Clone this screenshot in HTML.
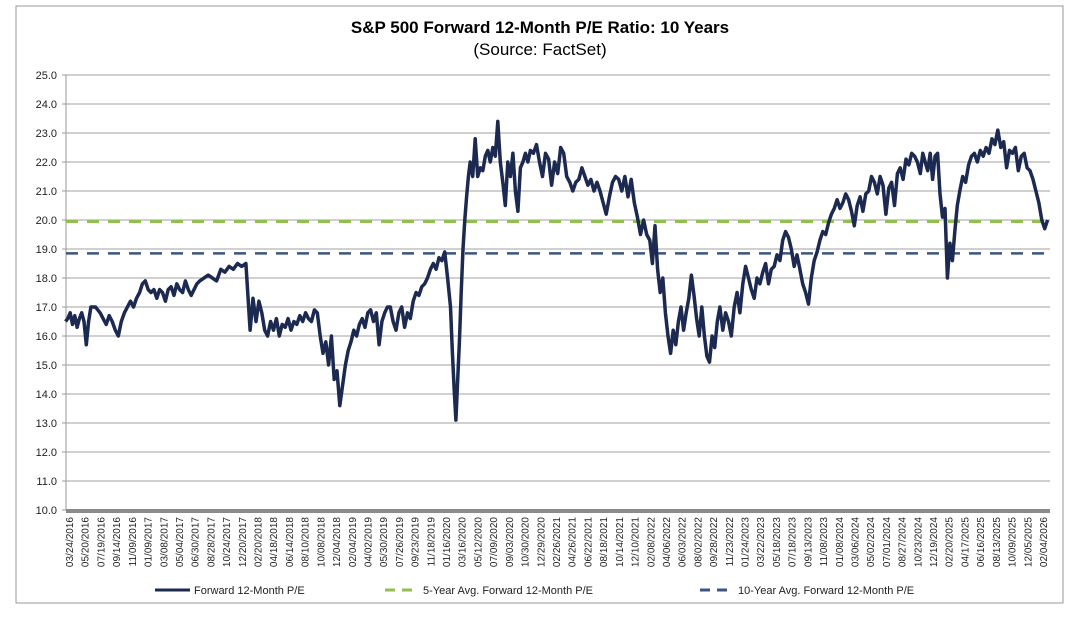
<!DOCTYPE html>
<html><head><meta charset="utf-8"><style>
body{margin:0;background:#fff;width:1090px;height:620px;overflow:hidden;font-family:"Liberation Sans",Arial,sans-serif}
</style></head><body>
<svg width="1090" height="620" xmlns="http://www.w3.org/2000/svg" id="chart">
<rect x="16" y="6" width="1047" height="597" fill="none" stroke="#999" stroke-width="1"/>
<text x="540" y="33" text-anchor="middle" font-size="17" font-weight="bold" fill="#000">S&amp;P 500 Forward 12-Month P/E Ratio: 10 Years</text>
<text x="540" y="55" text-anchor="middle" font-size="17" fill="#000">(Source: FactSet)</text>
<g id="grid"></g><g id="yticks"></g><g id="xticks"></g><g id="series"></g>
<g>
<line x1="155" y1="590" x2="190" y2="590" stroke="#1c2a52" stroke-width="3"/>
<text x="194" y="594" font-size="11" fill="#222">Forward 12-Month P/E</text>
<line x1="385" y1="590" x2="418" y2="590" stroke="#92c050" stroke-width="3" stroke-dasharray="10,7"/>
<text x="423" y="594" font-size="11" fill="#222">5-Year Avg. Forward 12-Month P/E</text>
<line x1="700" y1="590" x2="733" y2="590" stroke="#3c5580" stroke-width="3" stroke-dasharray="10,7"/>
<text x="738" y="594" font-size="11" fill="#222">10-Year Avg. Forward 12-Month P/E</text>
</g>
</svg>
<script>
const yTicks=[10,11,12,13,14,15,16,17,18,19,20,21,22,23,24,25];
const xLabels=["03/24/2016","05/20/2016","07/19/2016","09/14/2016","11/09/2016","01/09/2017","03/08/2017","05/04/2017","06/30/2017","08/28/2017","10/24/2017","12/20/2017","02/20/2018","04/18/2018","06/14/2018","08/10/2018","10/08/2018","12/04/2018","02/04/2019","04/02/2019","05/30/2019","07/26/2019","09/23/2019","11/18/2019","01/16/2020","03/16/2020","05/12/2020","07/09/2020","09/03/2020","10/30/2020","12/29/2020","02/26/2021","04/26/2021","06/22/2021","08/18/2021","10/14/2021","12/10/2021","02/08/2022","04/06/2022","06/03/2022","08/02/2022","09/28/2022","11/23/2022","01/24/2023","03/22/2023","05/18/2023","07/18/2023","09/13/2023","11/08/2023","01/08/2024","03/06/2024","05/02/2024","07/01/2024","08/27/2024","10/23/2024","12/19/2024","02/20/2025","04/17/2025","06/16/2025","08/13/2025","10/09/2025","12/05/2025","02/04/2026"];
const avg5=19.95;
const avg10=18.85;
const segStarts=[2016.19,2016.54,2016.94,2017.55,2018.06,2018.77,2019.48,2020.09,2020.29,2020.90,2021.605,2022.11,2022.82,2023.63,2024.24,2024.85,2025.25,2026.14];
const segValues=[
[16.5,16.6,16.8,16.4,16.7,16.3,16.6,16.8,16.5,15.7,16.5,17.0,17.0,17.0,16.9],
[16.8,16.6,16.4,16.7,16.5,16.2,16.0,16.5,16.8,17.0,17.2,17.0,17.3],
[17.5,17.8,17.9,17.6,17.5,17.6,17.3,17.6,17.5,17.2,17.6,17.7,17.4,17.8,17.6,17.5,17.9,17.6,17.4,17.6,17.8],
[17.9,18.0,18.1,18.0,17.9,18.3,18.2,18.4,18.3,18.5,18.4,18.5],
[16.2,17.3,16.5,17.2,16.8,16.2,16.0,16.5,16.2,16.6,16.0,16.4,16.3,16.6,16.2,16.5,16.4,16.7,16.5,16.8,16.6,16.5,16.9,16.8],
[16.0,15.4,15.8,15.0,16.0,14.5,14.8,13.6,14.3,15.0,15.5,15.8,16.2,16.0,16.4,16.6,16.3,16.8,16.9,16.5,16.8,15.7,16.5,16.8,17.0],
[17.0,16.5,16.2,16.8,17.0,16.3,16.8,16.6,17.2,17.5,17.4,17.7,17.8,18.0,18.3,18.5,18.3,18.7,18.6,18.9,18.0],
[17.0,15.5,14.2,13.1,14.5,15.8,17.5,19.0,20.0,20.8,21.5],
[22.0,21.5,22.8,21.5,21.8,21.7,22.2,22.4,22.0,22.5,22.2,23.4,22.0,21.3,20.5,22.0,21.5,22.3,21.0,20.3,21.8,22.0,22.3,22.0],
[22.4,22.3,22.6,22.0,21.5,22.3,22.1,21.2,22.0,21.6,22.5,22.3,21.5,21.3,21.0,21.3,21.4,21.8,21.5,21.2,21.4,21.0,21.3],
[21.0,20.6,20.2,20.8,21.3,21.5,21.4,21.0,21.5,20.8,21.4,20.6,20.1,19.5,20.0,19.5],
[19.3,18.5,19.8,18.3,17.5,18.0,16.8,16.0,15.4,16.2,15.7,16.5,17.0,16.2,16.8,17.3,18.1,17.4,16.6,16.0,17.0,16.0,15.3,15.1,16.0,15.6,16.5],
[17.0,16.2,16.8,16.5,16.0,17.0,17.5,16.8,17.8,18.4,18.0,17.6,17.3,18.0,17.8,18.2,18.5,17.8,18.3,18.4,18.8,18.6,19.3,19.6,19.4,19.0,18.4,18.8],
[18.3,17.8,17.5,17.1,18.0,18.6,18.9,19.3,19.6,19.5,19.9,20.2,20.4,20.7,20.4,20.6,20.9,20.7,20.3,19.8,20.5],
[20.8,20.3,20.9,21.0,21.5,21.3,20.9,21.5,21.2,20.2,21.1,21.3,20.5,21.6,21.8,21.4,22.1,21.9,22.3,22.2,22.0],
[21.6,22.3,22.0,21.7,22.3,21.4,22.2,22.3,20.9,20.1,20.4,18.0,19.2,18.6,19.6,20.5],
[21.0,21.5,21.3,21.9,22.2,22.3,22.0,22.4,22.2,22.5,22.3,22.8,22.6,23.1,22.5,22.7,21.8,22.4,22.3,22.5,21.7,22.2,22.3,21.8,21.7,21.4,21.0,20.6,20.0,19.7,20.0]
];
const NS="http://www.w3.org/2000/svg";
const L=66,R=1050,T=75,B=510,x0=2016.225,xl0=69,pxYear=98.7;
function yS(v){return B-(v-10)/15*(B-T);}
function xS(t){return xl0+(t-x0)*pxYear;}
function mk(tag,attrs,parent){const e=document.createElementNS(NS,tag);for(const k in attrs)e.setAttribute(k,attrs[k]);parent.appendChild(e);return e;}
const grid=document.getElementById('grid'),yt=document.getElementById('yticks'),xt=document.getElementById('xticks'),ser=document.getElementById('series');
mk('line',{x1:L,y1:T,x2:L,y2:B,stroke:'#999','stroke-width':1},grid);
yTicks.forEach(v=>{
  if(v>10){const g=mk('line',{x1:L,y1:yS(v),x2:R,y2:yS(v),stroke:'#a0a0a0','stroke-width':1},grid);
  
  }
  mk('line',{x1:L-4,y1:yS(v),x2:L,y2:yS(v),stroke:'#999'},grid);
  const t=mk('text',{x:L-9,y:yS(v)+4,'text-anchor':'end','font-size':11,fill:'#222'},yt);
  t.textContent=v.toFixed(1);
  
  
});
const ax=mk('line',{x1:L,y1:B+1,x2:R,y2:B+1,stroke:'#8a8a8a','stroke-width':4},grid);


const step=(1043-69)/(xLabels.length-1);
xLabels.forEach((s,i)=>{
  const x=69+i*step+4;
  const t=mk('text',{x:x,y:517,'text-anchor':'end','font-size':10,fill:'#222',transform:`rotate(-90 ${x} 517)`},xt);
  t.textContent=s;
  
  
});
const g5=mk('line',{x1:L,y1:yS(avg5),x2:R,y2:yS(avg5),stroke:'#92c050','stroke-width':3,'stroke-dasharray':'12,9'},ser);


const g10=mk('line',{x1:L,y1:yS(avg10),x2:R,y2:yS(avg10),stroke:'#3c5580','stroke-width':2.5,'stroke-dasharray':'12,9'},ser);


let pts=[];
segValues.forEach((vals,si)=>{
  const a=segStarts[si],b=segStarts[si+1];
  const last=si===segValues.length-1;
  const n=vals.length;
  vals.forEach((v,j)=>{
    const t=a+(b-a)*(last?j/(n-1):j/n);
    pts.push(xS(t).toFixed(1)+','+yS(v).toFixed(1));
  });
});
const pl=mk('polyline',{points:pts.join(' '),fill:'none',stroke:'#1c2a52','stroke-width':3.5,'stroke-linejoin':'round'},ser);


</script>
</body></html>
